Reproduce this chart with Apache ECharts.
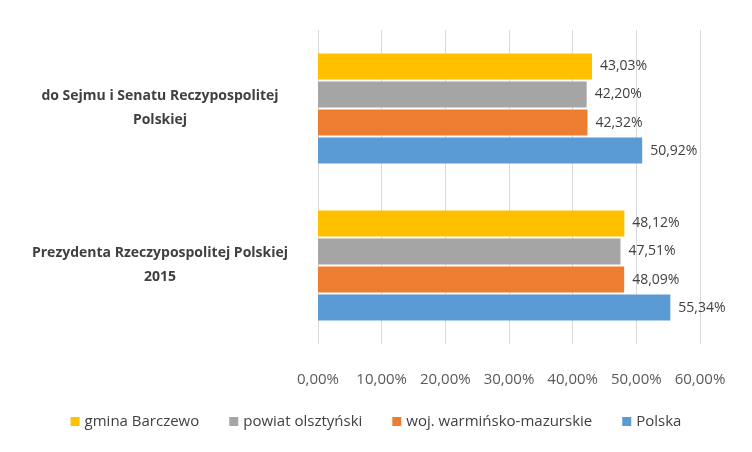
<!DOCTYPE html>
<html><head><meta charset="utf-8">
<script src="https://cdn.jsdelivr.net/npm/echarts@6/dist/echarts.min.js"></script>
<style>html,body{margin:0;padding:0;background:#fff}#c{width:752px;height:452px}</style>
</head><body><div id="c"></div>
<script>
const categories = ["Prezydenta Rzeczypospolitej Polskiej\n2015", "do Sejmu i Senatu Reczypospolitej\nPolskiej"];
const seriesNames = ["gmina Barczewo", "powiat olsztyński", "woj. warmińsko-mazurskie", "Polska"];
const gmina = [48.12, 43.03];
const powiat = [47.51, 42.20];
const woj = [48.09, 42.32];
const polska = [55.34, 50.92];
const colors = {"gmina Barczewo":"#FFC000","powiat olsztyński":"#A5A5A5","woj. warmińsko-mazurskie":"#ED7D31","Polska":"#5B9BD5"};
const fmt = v => v.toFixed(2).replace('.', ',') + '%';
const mk = (name, data) => ({
  name, type: 'bar', data, barWidth: 26, barGap: '8%',
  itemStyle: {color: colors[name]},
  label: {show: true, position: 'right', distance: 8, color: '#404040', fontSize: 14, fontFamily: 'Open Sans', formatter: p => fmt(p.value)}
});
const chart = echarts.init(document.getElementById('c'));
chart.setOption({
  animation: false,
  textStyle: {fontFamily: 'Open Sans'},
  grid: {left: 318, right: 52, top: 30, bottom: 108},
  legend: {
    data: seriesNames, bottom: 18, left: 'center', itemWidth: 9, itemHeight: 9, icon: 'rect', itemGap: 30,
    textStyle: {color: '#404040', fontSize: 15}
  },
  xAxis: {
    type: 'value', min: 0, max: 60, interval: 10,
    axisLabel: {formatter: v => v.toFixed(2).replace('.', ',') + '%', color: '#595959', fontSize: 15, margin: 28},
    splitLine: {lineStyle: {color: '#D9D9D9'}}
  },
  yAxis: {
    type: 'category', data: categories,
    axisLine: {show: false}, axisTick: {show: false},
    axisLabel: {color: '#404040', fontWeight: 'bold', fontSize: 14, align: 'center', margin: 158, lineHeight: 24}
  },
  series: [mk('gmina Barczewo', gmina), mk('powiat olsztyński', powiat), mk('woj. warmińsko-mazurskie', woj), mk('Polska', polska)]
});
</script></body></html>
